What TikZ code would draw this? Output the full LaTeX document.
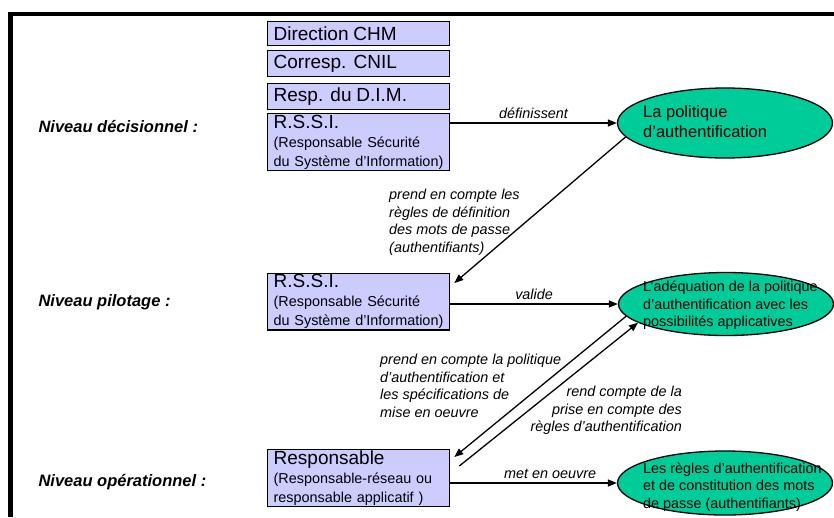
\documentclass[tikz,border=0pt]{standalone}
\usepackage{fontspec}
\setmainfont{Liberation Sans}
\usetikzlibrary{shapes.geometric,arrows.meta}

\definecolor{boxfill}{HTML}{CCCCFF}
\definecolor{ellfill}{HTML}{00CC99}
\newcommand{\grand}{\fontsize{19}{19}\selectfont}

\begin{document}
\begin{tikzpicture}[x=1pt, y=-1pt,
    acteur/.style={draw, fill=boxfill, line width=1.3pt, anchor=north west,
        text width=170pt, inner xsep=6pt, inner ysep=1pt, align=left,
        font=\fontsize{14.4}{19}\selectfont},
    objectif/.style={draw, fill=ellfill, ellipse, line width=1.3pt,
        minimum width=215pt, inner sep=0pt},
    texte/.style={anchor=west, align=left, inner sep=0pt,
        font=\fontsize{14.4}{17.5}\selectfont},
    niveau/.style={anchor=west, font=\fontsize{16.5}{20}\selectfont\bfseries\itshape},
    verbe/.style={inner sep=1pt, font=\fontsize{14.4}{17.5}\selectfont\itshape},
    fleche/.style={-{Triangle[length=9pt,width=7pt]}, line width=1.3pt}]

    \useasboundingbox (0,0) rectangle (834,517);

    % draw frame
    \draw[line width=4.5pt] (10.5,517) -- (10.5,14) -- (834,14);

    % draw levels
    \node[niveau] (decision) at (35,127) {Niveau décisionnel :};
    \node[niveau] (pilotage) at (35,302) {Niveau pilotage :};
    \node[niveau] (operation) at (35,482) {Niveau opérationnel :};

    % draw boxes
    \foreach \y/\h/\name/\txt in {21/24pt/dirchm/Direction CHM, 50/26pt/cnil/Corresp. CNIL,
        83/26pt/dim/Resp. du D.I.M.}
        \node[acteur, minimum height=\h] (\name) at (267,\y) {\grand \txt};
    \node[acteur, minimum height=57pt] (rssidec) at (267,113)
        {{\grand R.S.S.I.}\\(Responsable Sécurité\\du Système d’Information)};
    \node[acteur, minimum height=55pt] (rssipil) at (267,273)
        {{\grand R.S.S.I.}\\(Responsable Sécurité\\du Système d’Information)};
    \node[acteur, minimum height=57pt] (respop) at (267,449)
        {{\grand Responsable}\\(Responsable-réseau ou\\responsable applicatif )};

    % draw ellipses
    \node[objectif, minimum height=70pt] (politique) at (725,123) {};
    \node[objectif, minimum height=63pt] (adequation) at (726,304) {};
    \node[objectif, minimum height=64pt] (regles) at (725,483) {};
    \node[texte, font=\fontsize{16.5}{20}\selectfont] (politiquetxt) at (643,121.5)
        {La politique\\d’authentification};
    \node[texte] (adequationtxt) at (643,305.5)
        {L’adéquation de la politique\\d’authentification avec les\\possibilités applicatives};
    \node[texte] (reglestxt) at (643,487)
        {Les règles d’authentification\\et de constitution des mots\\de passe (authentifiants)};

    % draw arrows
    \draw[fleche] (rssidec.east |- politique.west) -- node[verbe, above=3pt] (defin) {définissent} (politique.west);
    \draw[fleche] (politique.188) -- ([xshift=4pt,yshift=-10pt]rssipil.north east);
    \draw[fleche] (rssipil.east |- adequation.west) -- node[verbe, above=3pt] (valide) {valide} (adequation.west);
    \draw[fleche] (adequation.187) -- ([xshift=4pt,yshift=-8pt]respop.north east);
    \draw[fleche] ([xshift=9pt,yshift=-17pt]respop.north east) -- (adequation.192);
    \draw[fleche] (respop.east |- regles.west) -- node[verbe, above=3pt, pos=0.6] (meo) {met en oeuvre} (regles.west);

    % draw arrow labels
    \node[verbe, anchor=north west, align=left] (reglesdef) at (388,188)
        {prend en compte les\\règles de définition\\des mots de passe\\(authentifiants)};
    \node[verbe, anchor=north west, align=left] (specs) at (379,353)
        {prend en compte la politique\\d’authentification et\\les spécifications de\\mise en oeuvre};
    \node[verbe, anchor=north east, align=right] (rendcompte) at (683,385)
        {rend compte de la\\prise en compte des\\règles d’authentification};

\end{tikzpicture}
\end{document}
